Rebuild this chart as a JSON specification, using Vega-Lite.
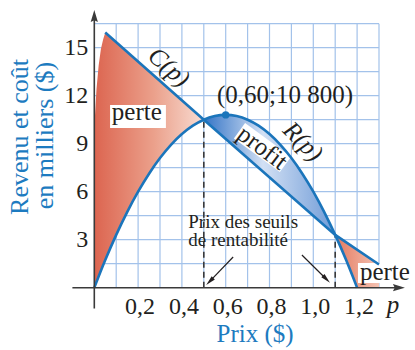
{
  "$schema": "https://vega.github.io/schema/vega-lite/v6.json",
  "width": 415,
  "height": 350,
  "autosize": {"type": "none"},
  "padding": 0,
  "background": "white",
  "config": {"view": {"stroke": null}, "text": {"font": "Liberation Serif", "color": "#231f20"}},
  "data": {"values": [{}]},
  "datasets": {
    "grille": [
      {"id": "x1", "p": 0.1, "v": 0}, {"id": "x1", "p": 0.1, "v": 16.5},
      {"id": "x2", "p": 0.2, "v": 0}, {"id": "x2", "p": 0.2, "v": 16.5},
      {"id": "x3", "p": 0.3, "v": 0}, {"id": "x3", "p": 0.3, "v": 16.5},
      {"id": "x4", "p": 0.4, "v": 0}, {"id": "x4", "p": 0.4, "v": 16.5},
      {"id": "x5", "p": 0.5, "v": 0}, {"id": "x5", "p": 0.5, "v": 16.5},
      {"id": "x6", "p": 0.6, "v": 0}, {"id": "x6", "p": 0.6, "v": 16.5},
      {"id": "x7", "p": 0.7, "v": 0}, {"id": "x7", "p": 0.7, "v": 16.5},
      {"id": "x8", "p": 0.8, "v": 0}, {"id": "x8", "p": 0.8, "v": 16.5},
      {"id": "x9", "p": 0.9, "v": 0}, {"id": "x9", "p": 0.9, "v": 16.5},
      {"id": "x10", "p": 1.0, "v": 0}, {"id": "x10", "p": 1.0, "v": 16.5},
      {"id": "x11", "p": 1.1, "v": 0}, {"id": "x11", "p": 1.1, "v": 16.5},
      {"id": "x12", "p": 1.2, "v": 0}, {"id": "x12", "p": 1.2, "v": 16.5},
      {"id": "x13", "p": 1.3, "v": 0}, {"id": "x13", "p": 1.3, "v": 16.5},
      {"id": "y1", "p": 0, "v": 1.5}, {"id": "y1", "p": 1.3, "v": 1.5},
      {"id": "y2", "p": 0, "v": 3}, {"id": "y2", "p": 1.3, "v": 3},
      {"id": "y3", "p": 0, "v": 4.5}, {"id": "y3", "p": 1.3, "v": 4.5},
      {"id": "y4", "p": 0, "v": 6}, {"id": "y4", "p": 1.3, "v": 6},
      {"id": "y5", "p": 0, "v": 7.5}, {"id": "y5", "p": 1.3, "v": 7.5},
      {"id": "y6", "p": 0, "v": 9}, {"id": "y6", "p": 1.3, "v": 9},
      {"id": "y7", "p": 0, "v": 10.5}, {"id": "y7", "p": 1.3, "v": 10.5},
      {"id": "y8", "p": 0, "v": 12}, {"id": "y8", "p": 1.3, "v": 12},
      {"id": "y9", "p": 0, "v": 13.5}, {"id": "y9", "p": 1.3, "v": 13.5},
      {"id": "y10", "p": 0, "v": 15}, {"id": "y10", "p": 1.3, "v": 15},
      {"id": "y11", "p": 0, "v": 16.5}, {"id": "y11", "p": 1.3, "v": 16.5}
    ],
    "revenu": [
      {"p": 0, "v": 0}, {"p": 0.05, "v": 1.725}, {"p": 0.1, "v": 3.3}, {"p": 0.15, "v": 4.725},
      {"p": 0.2, "v": 6.0}, {"p": 0.25, "v": 7.125}, {"p": 0.3, "v": 8.1}, {"p": 0.35, "v": 8.925},
      {"p": 0.4, "v": 9.6}, {"p": 0.45, "v": 10.125}, {"p": 0.5, "v": 10.5}, {"p": 0.55, "v": 10.725},
      {"p": 0.6, "v": 10.8}, {"p": 0.65, "v": 10.725}, {"p": 0.7, "v": 10.5}, {"p": 0.75, "v": 10.125},
      {"p": 0.8, "v": 9.6}, {"p": 0.85, "v": 8.925}, {"p": 0.9, "v": 8.1}, {"p": 0.95, "v": 7.125},
      {"p": 1.0, "v": 6.0}, {"p": 1.05, "v": 4.725}, {"p": 1.1, "v": 3.3}, {"p": 1.15, "v": 1.725},
      {"p": 1.2, "v": 0}
    ],
    "cout": [{"p": 0.05, "v": 15.95}, {"p": 0.5, "v": 10.5}, {"p": 1.1, "v": 3.3}, {"p": 1.3, "v": 1.45}],
    "perteGauche": [
      {"p": 0, "haut": 10.0, "bas": 0}, {"p": 0.01, "haut": 12.4, "bas": 0.36}, {"p": 0.02, "haut": 13.9, "bas": 0.71},
      {"p": 0.03, "haut": 14.9, "bas": 1.05}, {"p": 0.04, "haut": 15.5, "bas": 1.39}, {"p": 0.05, "haut": 15.95, "bas": 1.725},
      {"p": 0.1, "haut": 15.34, "bas": 3.3}, {"p": 0.15, "haut": 14.74, "bas": 4.725}, {"p": 0.2, "haut": 14.13, "bas": 6.0},
      {"p": 0.25, "haut": 13.53, "bas": 7.125}, {"p": 0.3, "haut": 12.92, "bas": 8.1}, {"p": 0.35, "haut": 12.32, "bas": 8.925},
      {"p": 0.4, "haut": 11.71, "bas": 9.6}, {"p": 0.45, "haut": 11.11, "bas": 10.125}, {"p": 0.5, "haut": 10.5, "bas": 10.5}
    ],
    "profit": [
      {"p": 0.5, "haut": 10.5, "bas": 10.5}, {"p": 0.55, "haut": 10.725, "bas": 9.9}, {"p": 0.6, "haut": 10.8, "bas": 9.3},
      {"p": 0.65, "haut": 10.725, "bas": 8.7}, {"p": 0.7, "haut": 10.5, "bas": 8.1}, {"p": 0.75, "haut": 10.125, "bas": 7.5},
      {"p": 0.8, "haut": 9.6, "bas": 6.9}, {"p": 0.85, "haut": 8.925, "bas": 6.3}, {"p": 0.9, "haut": 8.1, "bas": 5.7},
      {"p": 0.95, "haut": 7.125, "bas": 5.1}, {"p": 1.0, "haut": 6.0, "bas": 4.5}, {"p": 1.05, "haut": 4.725, "bas": 3.9},
      {"p": 1.1, "haut": 3.3, "bas": 3.3}
    ],
    "perteDroite": [
      {"p": 1.1, "haut": 3.3, "bas": 3.3}, {"p": 1.15, "haut": 2.84, "bas": 1.725}, {"p": 1.2, "haut": 2.38, "bas": 0},
      {"p": 1.25, "haut": 1.91, "bas": 0}, {"p": 1.3, "haut": 1.45, "bas": 0}
    ],
    "seuils": [
      {"id": "bas", "p": 0.5, "v": 0}, {"id": "bas", "p": 0.5, "v": 10.5},
      {"id": "haut", "p": 1.1, "v": 0}, {"id": "haut", "p": 1.1, "v": 3.3}
    ],
    "axes": [
      {"id": "p", "p": -0.1, "v": 0}, {"id": "p", "p": 1.39, "v": 0},
      {"id": "r", "p": 0, "v": -1.3}, {"id": "r", "p": 0, "v": 16.98}
    ],
    "fleches": [
      {"id": "gauche", "p": 0.527, "v": 0.39}, {"id": "gauche", "p": 0.634, "v": 1.92},
      {"id": "droite", "p": 0.948, "v": 2.04}, {"id": "droite", "p": 1.06, "v": 0.53}
    ],
    "fonds": [
      {"id": "perte", "p": 0.072, "v": 10.7}, {"id": "perte", "p": 0.327, "v": 10.7},
      {"id": "perte2", "p": 1.204, "v": 0.925}, {"id": "perte2", "p": 1.47, "v": 0.925},
      {"id": "profit", "p": 0.663, "v": 9.81}, {"id": "profit", "p": 0.873, "v": 7.71}
    ],
    "sommet": [{"p": 0.6, "v": 10.8}],
    "graduationsX": [{"p": 0.2, "etiquette": "0,2"}, {"p": 0.4, "etiquette": "0,4"}, {"p": 0.6, "etiquette": "0,6"}, {"p": 0.8, "etiquette": "0,8"}, {"p": 1.0, "etiquette": "1,0"}, {"p": 1.2, "etiquette": "1,2"}],
    "graduationsY": [{"v": 3, "etiquette": "3"}, {"v": 6, "etiquette": "6"}, {"v": 9, "etiquette": "9"}, {"v": 12, "etiquette": "12"}, {"v": 15, "etiquette": "15"}]
  },
  "layer": [
    {
      "encoding": {
        "x": {"field": "p", "type": "quantitative", "scale": {"domain": [-0.4306, 1.4644], "nice": false, "zero": false}, "axis": null},
        "y": {"field": "v", "type": "quantitative", "scale": {"domain": [-3.894, 17.98], "nice": false, "zero": false}, "axis": null}
      },
      "layer": [
        {
          "data": {"name": "grille"},
          "mark": {"type": "line", "color": "#a3c2ea", "strokeWidth": 1.2},
          "encoding": {"detail": {"field": "id", "type": "nominal"}}
        },
        {
          "data": {"name": "perteGauche"},
          "mark": {"type": "area", "fill": {"gradient": "linear", "x1": 0, "y1": 0, "x2": 1, "y2": 0, "stops": [{"offset": 0, "color": "#dc6550"}, {"offset": 0.55, "color": "#eba18c"}, {"offset": 1, "color": "#f8dcd2"}]}},
          "encoding": {
            "y": {"field": "haut", "type": "quantitative", "scale": {"domain": [-3.894, 17.98], "nice": false, "zero": false}, "axis": null},
            "y2": {"field": "bas"}
          }
        },
        {
          "data": {"name": "profit"},
          "mark": {"type": "area", "fill": {"gradient": "linear", "x1": 0, "y1": 0, "x2": 1, "y2": 0, "stops": [{"offset": 0, "color": "#3474c6"}, {"offset": 0.45, "color": "#d2e0f4"}, {"offset": 1, "color": "#6f9bd7"}]}},
          "encoding": {
            "y": {"field": "haut", "type": "quantitative", "scale": {"domain": [-3.894, 17.98], "nice": false, "zero": false}, "axis": null},
            "y2": {"field": "bas"}
          }
        },
        {
          "data": {"name": "perteDroite"},
          "mark": {"type": "area", "fill": {"gradient": "linear", "x1": 0, "y1": 0, "x2": 1, "y2": 0, "stops": [{"offset": 0, "color": "#e47a60"}, {"offset": 1, "color": "#f4c2b2"}]}},
          "encoding": {
            "y": {"field": "haut", "type": "quantitative", "scale": {"domain": [-3.894, 17.98], "nice": false, "zero": false}, "axis": null},
            "y2": {"field": "bas"}
          }
        },
        {
          "data": {"name": "fonds"},
          "transform": [{"filter": "datum.id === 'perte'"}],
          "mark": {"type": "line", "color": "white", "strokeWidth": 23, "strokeCap": "butt"},
          "encoding": {}
        },
        {
          "data": {"name": "fonds"},
          "transform": [{"filter": "datum.id === 'perte2'"}],
          "mark": {"type": "line", "color": "white", "strokeWidth": 20, "strokeCap": "butt"},
          "encoding": {}
        },
        {
          "data": {"name": "fonds"},
          "transform": [{"filter": "datum.id === 'profit'"}],
          "mark": {"type": "line", "color": "white", "strokeWidth": 19, "strokeCap": "butt"},
          "encoding": {}
        },
        {
          "data": {"name": "seuils"},
          "mark": {"type": "line", "color": "#3a3a3a", "strokeWidth": 1.6, "strokeDash": [6, 4]},
          "encoding": {"detail": {"field": "id", "type": "nominal"}}
        },
        {
          "data": {"name": "revenu"},
          "mark": {"type": "line", "color": "#1b75bb", "strokeWidth": 2.6, "interpolate": "monotone"},
          "encoding": {}
        },
        {
          "data": {"name": "cout"},
          "mark": {"type": "line", "color": "#1b75bb", "strokeWidth": 2.6},
          "encoding": {}
        },
        {
          "data": {"name": "axes"},
          "mark": {"type": "line", "color": "#3a3a3a", "strokeWidth": 1.6},
          "encoding": {"detail": {"field": "id", "type": "nominal"}}
        },
        {
          "data": {"name": "fleches"},
          "mark": {"type": "line", "color": "#231f20", "strokeWidth": 1.2},
          "encoding": {"detail": {"field": "id", "type": "nominal"}}
        },
        {
          "data": {"name": "sommet"},
          "mark": {"type": "point", "shape": "circle", "filled": true, "color": "#1b75bb", "size": 55, "opacity": 1},
          "encoding": {}
        }
      ]
    },
    {
      "mark": {"type": "point", "shape": "M1,0L-1,-0.6L-0.7,0L-1,0.6Z", "filled": true, "color": "#3a3a3a", "size": 144, "opacity": 1},
      "encoding": {
        "x": {"datum": 1.391, "type": "quantitative", "scale": {"domain": [-0.4306, 1.4644], "nice": false, "zero": false}, "axis": null},
        "y": {"datum": 0, "type": "quantitative", "scale": {"domain": [-3.894, 17.98], "nice": false, "zero": false}, "axis": null}
      }
    },
    {
      "mark": {"type": "point", "shape": "M0,-1L0.6,1L0,0.7L-0.6,1Z", "filled": true, "color": "#3a3a3a", "size": 144, "opacity": 1},
      "encoding": {
        "x": {"datum": 0, "type": "quantitative", "scale": {"domain": [-0.4306, 1.4644], "nice": false, "zero": false}, "axis": null},
        "y": {"datum": 16.98, "type": "quantitative", "scale": {"domain": [-3.894, 17.98], "nice": false, "zero": false}, "axis": null}
      }
    },
    {
      "mark": {"type": "point", "shape": "M0,-1L0.45,1L-0.45,1Z", "filled": true, "color": "#231f20", "size": 100, "angle": 225, "opacity": 1},
      "encoding": {
        "x": {"datum": 0.527, "type": "quantitative", "scale": {"domain": [-0.4306, 1.4644], "nice": false, "zero": false}, "axis": null},
        "y": {"datum": 0.39, "type": "quantitative", "scale": {"domain": [-3.894, 17.98], "nice": false, "zero": false}, "axis": null}
      }
    },
    {
      "mark": {"type": "point", "shape": "M0,-1L0.45,1L-0.45,1Z", "filled": true, "color": "#231f20", "size": 100, "angle": 135, "opacity": 1},
      "encoding": {
        "x": {"datum": 1.06, "type": "quantitative", "scale": {"domain": [-0.4306, 1.4644], "nice": false, "zero": false}, "axis": null},
        "y": {"datum": 0.53, "type": "quantitative", "scale": {"domain": [-3.894, 17.98], "nice": false, "zero": false}, "axis": null}
      }
    },
    {
      "data": {"name": "graduationsX"},
      "mark": {"type": "text", "font": "Liberation Serif", "fontSize": 24, "align": "center", "baseline": "alphabetic", "dx": 2},
      "encoding": {
        "x": {"field": "p", "type": "quantitative", "scale": {"domain": [-0.4306, 1.4644], "nice": false, "zero": false}, "axis": null},
        "y": {"datum": -1.66, "type": "quantitative", "scale": {"domain": [-3.894, 17.98], "nice": false, "zero": false}, "axis": null},
        "text": {"field": "etiquette"}
      }
    },
    {
      "data": {"name": "graduationsY"},
      "mark": {"type": "text", "font": "Liberation Serif", "fontSize": 24, "align": "right", "baseline": "middle", "dx": -6},
      "encoding": {
        "x": {"datum": 0, "type": "quantitative", "scale": {"domain": [-0.4306, 1.4644], "nice": false, "zero": false}, "axis": null},
        "y": {"field": "v", "type": "quantitative", "scale": {"domain": [-3.894, 17.98], "nice": false, "zero": false}, "axis": null},
        "text": {"field": "etiquette"}
      }
    },
    {
      "mark": {"type": "text", "text": "p", "font": "Liberation Serif", "fontSize": 25, "fontStyle": "italic", "align": "center", "baseline": "alphabetic"},
      "encoding": {
        "x": {"datum": 1.364, "type": "quantitative", "scale": {"domain": [-0.4306, 1.4644], "nice": false, "zero": false}, "axis": null},
        "y": {"datum": -1.58, "type": "quantitative", "scale": {"domain": [-3.894, 17.98], "nice": false, "zero": false}, "axis": null}
      }
    },
    {
      "mark": {"type": "text", "text": "Prix ($)", "font": "Liberation Serif", "fontSize": 25, "color": "#1d7bc0", "align": "center", "baseline": "alphabetic"},
      "encoding": {
        "x": {"datum": 0.734, "type": "quantitative", "scale": {"domain": [-0.4306, 1.4644], "nice": false, "zero": false}, "axis": null},
        "y": {"datum": -3.375, "type": "quantitative", "scale": {"domain": [-3.894, 17.98], "nice": false, "zero": false}, "axis": null}
      }
    },
    {
      "mark": {"type": "text", "text": "Revenu et coût", "font": "Liberation Serif", "fontSize": 26, "color": "#1d7bc0", "align": "center", "baseline": "alphabetic", "angle": 270},
      "encoding": {
        "x": {"datum": -0.3027, "type": "quantitative", "scale": {"domain": [-0.4306, 1.4644], "nice": false, "zero": false}, "axis": null},
        "y": {"datum": 9.42, "type": "quantitative", "scale": {"domain": [-3.894, 17.98], "nice": false, "zero": false}, "axis": null}
      }
    },
    {
      "mark": {"type": "text", "text": "en milliers ($)", "font": "Liberation Serif", "fontSize": 26, "color": "#1d7bc0", "align": "center", "baseline": "alphabetic", "angle": 270},
      "encoding": {
        "x": {"datum": -0.1872, "type": "quantitative", "scale": {"domain": [-0.4306, 1.4644], "nice": false, "zero": false}, "axis": null},
        "y": {"datum": 9.51, "type": "quantitative", "scale": {"domain": [-3.894, 17.98], "nice": false, "zero": false}, "axis": null}
      }
    },
    {
      "mark": {"type": "text", "text": "C(p)", "font": "Liberation Serif", "fontSize": 25, "fontStyle": "italic", "align": "center", "baseline": "middle", "angle": 41},
      "encoding": {
        "x": {"datum": 0.341, "type": "quantitative", "scale": {"domain": [-0.4306, 1.4644], "nice": false, "zero": false}, "axis": null},
        "y": {"datum": 13.79, "type": "quantitative", "scale": {"domain": [-3.894, 17.98], "nice": false, "zero": false}, "axis": null}
      }
    },
    {
      "mark": {"type": "text", "text": "R(p)", "font": "Liberation Serif", "fontSize": 25, "fontStyle": "italic", "align": "center", "baseline": "middle", "angle": 45},
      "encoding": {
        "x": {"datum": 0.953, "type": "quantitative", "scale": {"domain": [-0.4306, 1.4644], "nice": false, "zero": false}, "axis": null},
        "y": {"datum": 9.14, "type": "quantitative", "scale": {"domain": [-3.894, 17.98], "nice": false, "zero": false}, "axis": null}
      }
    },
    {
      "mark": {"type": "text", "text": "profit", "font": "Liberation Serif", "fontSize": 25, "align": "center", "baseline": "middle", "angle": 37},
      "encoding": {
        "x": {"datum": 0.768, "type": "quantitative", "scale": {"domain": [-0.4306, 1.4644], "nice": false, "zero": false}, "axis": null},
        "y": {"datum": 8.76, "type": "quantitative", "scale": {"domain": [-3.894, 17.98], "nice": false, "zero": false}, "axis": null}
      }
    },
    {
      "mark": {"type": "text", "text": "perte", "font": "Liberation Serif", "fontSize": 25, "align": "center", "baseline": "alphabetic"},
      "encoding": {
        "x": {"datum": 0.194, "type": "quantitative", "scale": {"domain": [-0.4306, 1.4644], "nice": false, "zero": false}, "axis": null},
        "y": {"datum": 10.47, "type": "quantitative", "scale": {"domain": [-3.894, 17.98], "nice": false, "zero": false}, "axis": null}
      }
    },
    {
      "mark": {"type": "text", "text": "perte", "font": "Liberation Serif", "fontSize": 25, "align": "left", "baseline": "alphabetic"},
      "encoding": {
        "x": {"datum": 1.213, "type": "quantitative", "scale": {"domain": [-0.4306, 1.4644], "nice": false, "zero": false}, "axis": null},
        "y": {"datum": 0.48, "type": "quantitative", "scale": {"domain": [-3.894, 17.98], "nice": false, "zero": false}, "axis": null}
      }
    },
    {
      "mark": {"type": "text", "text": "(0,60;10 800)", "font": "Liberation Serif", "fontSize": 25, "align": "center", "baseline": "alphabetic"},
      "encoding": {
        "x": {"datum": 0.871, "type": "quantitative", "scale": {"domain": [-0.4306, 1.4644], "nice": false, "zero": false}, "axis": null},
        "y": {"datum": 11.52, "type": "quantitative", "scale": {"domain": [-3.894, 17.98], "nice": false, "zero": false}, "axis": null}
      }
    },
    {
      "mark": {"type": "text", "text": "Prix des seuils", "font": "Liberation Serif", "fontSize": 19, "align": "left", "baseline": "alphabetic"},
      "encoding": {
        "x": {"datum": 0.429, "type": "quantitative", "scale": {"domain": [-0.4306, 1.4644], "nice": false, "zero": false}, "axis": null},
        "y": {"datum": 3.76, "type": "quantitative", "scale": {"domain": [-3.894, 17.98], "nice": false, "zero": false}, "axis": null}
      }
    },
    {
      "mark": {"type": "text", "text": "de rentabilité", "font": "Liberation Serif", "fontSize": 19, "align": "left", "baseline": "alphabetic"},
      "encoding": {
        "x": {"datum": 0.429, "type": "quantitative", "scale": {"domain": [-0.4306, 1.4644], "nice": false, "zero": false}, "axis": null},
        "y": {"datum": 2.58, "type": "quantitative", "scale": {"domain": [-3.894, 17.98], "nice": false, "zero": false}, "axis": null}
      }
    }
  ]
}
